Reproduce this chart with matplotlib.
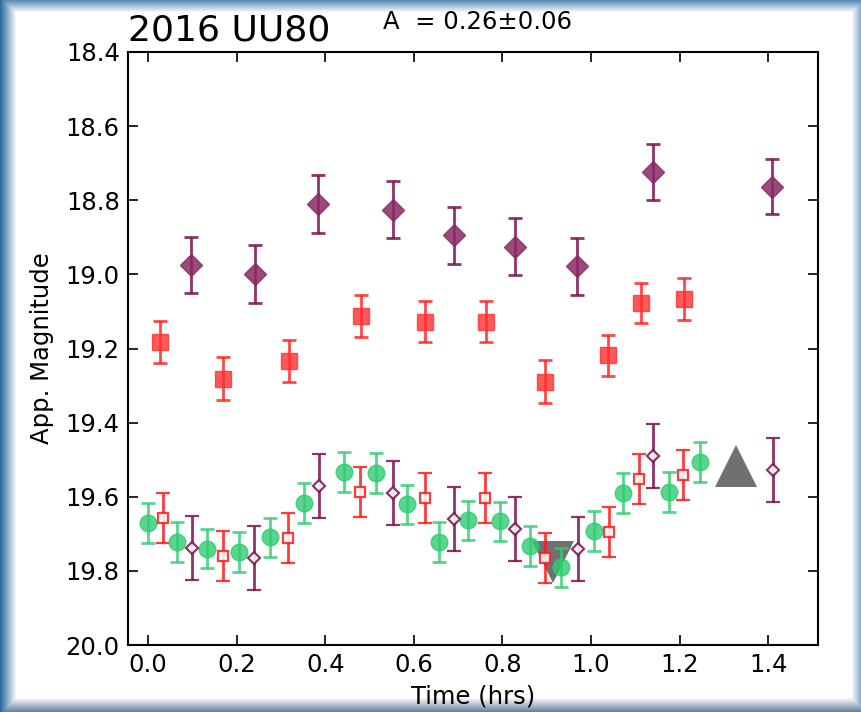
import numpy as np
import matplotlib.pyplot as plt

# bright points (filled diamonds / filled squares)
t_pd = [0.097, 0.242, 0.384, 0.553, 0.691, 0.828, 0.968, 1.140, 1.409]
m_pd = [18.975, 19.000, 18.810, 18.825, 18.895, 18.925, 18.978, 18.724, 18.764]
e_pd = [0.075, 0.078, 0.078, 0.076, 0.077, 0.077, 0.077, 0.076, 0.074]

t_rs = [0.027, 0.169, 0.318, 0.481, 0.625, 0.763, 0.896, 1.038, 1.113, 1.210]
m_rs = [19.183, 19.282, 19.234, 19.112, 19.128, 19.128, 19.290, 19.218, 19.077, 19.066]
e_rs = [0.056, 0.058, 0.057, 0.056, 0.055, 0.055, 0.058, 0.055, 0.055, 0.057]

# lower group
t_g = [0.000, 0.065, 0.133, 0.205, 0.275, 0.352, 0.442, 0.515, 0.585, 0.657,
       0.722, 0.795, 0.862, 0.932, 1.007, 1.072, 1.176, 1.246]
m_g = [19.671, 19.722, 19.740, 19.749, 19.709, 19.617, 19.533, 19.536, 19.620, 19.722,
       19.663, 19.666, 19.733, 19.790, 19.692, 19.590, 19.587, 19.506]
e_g = [0.053] * 18

t_ro = [0.034, 0.169, 0.316, 0.479, 0.625, 0.761, 0.896, 1.041, 1.108, 1.208]
m_ro = [19.657, 19.760, 19.711, 19.587, 19.603, 19.603, 19.765, 19.695, 19.552, 19.541]
e_ro = [0.068] * 10

t_po = [0.099, 0.239, 0.386, 0.553, 0.691, 0.828, 0.971, 1.140, 1.411]
m_po = [19.738, 19.765, 19.571, 19.590, 19.660, 19.687, 19.741, 19.490, 19.528]
e_po = [0.087] * 9

t_dn, m_dn = [0.914], [19.777]
t_up, m_up = [1.327], [19.517]

xticks = [0.0, 0.2, 0.4, 0.6, 0.8, 1.0, 1.2, 1.4]
yticks = [18.4, 18.6, 18.8, 19.0, 19.2, 19.4, 19.6, 19.8, 20.0]

purple = '#7a1050'
red = '#ff1a1a'
green = '#2ecc71'

fig = plt.figure(figsize=(8.61, 7.12), dpi=100)

# blue screenshot frame
bg = fig.add_axes([0, 0, 1, 1], zorder=-10)
h, w = 712, 861
yy, xx = np.mgrid[0:h, 0:w]
edge_l = np.array([0.18, 0.42, 0.62])
edge_t = np.array([0.35, 0.55, 0.72])
edge_b = np.array([0.42, 0.52, 0.64])
edge_r = np.array([0.55, 0.68, 0.80])
img = np.ones((h, w, 3))
for dist, width, col in [(xx, 16.0, edge_l), (yy, 12.0, edge_t),
                         (h - 1 - yy, 14.0, edge_b), (w - 1 - xx, 9.0, edge_r)]:
    f = np.clip(dist / width, 0, 1)[..., None]
    img = np.minimum(img, col * (1 - f) + f)
bg.imshow(img, aspect='auto', interpolation='bilinear')
bg.axis('off')

ax = fig.add_axes([0.1487, 0.094, 0.8013, 0.833])
ax.set_facecolor('none')

ax.plot(t_dn, m_dn, 'v', color='#707070', ms=30, mew=0, zorder=1)
ax.plot(t_up, m_up, '^', color='#707070', ms=30, mew=0, zorder=1)

kw = dict(ls='none', capsize=5, elinewidth=2, capthick=2, zorder=3)
ax.errorbar(t_pd, m_pd, yerr=e_pd, fmt='D', ms=11, color=purple, mfc='#8a2a65',
            mec='#8a2a65', alpha=0.85, **kw)
ax.errorbar(t_rs, m_rs, yerr=e_rs, fmt='s', ms=11.5, color=red, mfc='#ff3030',
            mec='#ff3030', alpha=0.8, **kw)
ax.errorbar(t_g, m_g, yerr=e_g, fmt='o', ms=12, color=green, mfc=green,
            mec=green, alpha=0.8, **kw)
ax.errorbar(t_ro, m_ro, yerr=e_ro, fmt='s', ms=7, color=red, mfc='white',
            mec=red, mew=1.6, alpha=0.85, **kw)
ax.errorbar(t_po, m_po, yerr=e_po, fmt='D', ms=6.5, color=purple, mfc='white',
            mec=purple, mew=1.6, alpha=0.85, **kw)

ax.set_xlim(-0.045, 1.512)
ax.set_ylim(20.0, 18.4)
ax.set_xticks(xticks)
ax.set_yticks(yticks)
ax.tick_params(direction='in', top=True, right=True, length=7, width=1.2,
               labelsize=17.5, pad=6)
for s in ax.spines.values():
    s.set_linewidth(1.5)

ax.set_xlabel('Time (hrs)', fontsize=17.5, labelpad=5)
ax.set_ylabel('App. Magnitude', fontsize=17.5, labelpad=8)
ax.text(0.0, 1.008, '2016 UU80', transform=ax.transAxes, fontsize=26,
        ha='left', va='bottom')
ax.text(0.37, 1.03, 'A  = 0.26\u00b10.06', transform=ax.transAxes,
        fontsize=17.5, ha='left', va='bottom')

fig.savefig('out.png', dpi=100)
